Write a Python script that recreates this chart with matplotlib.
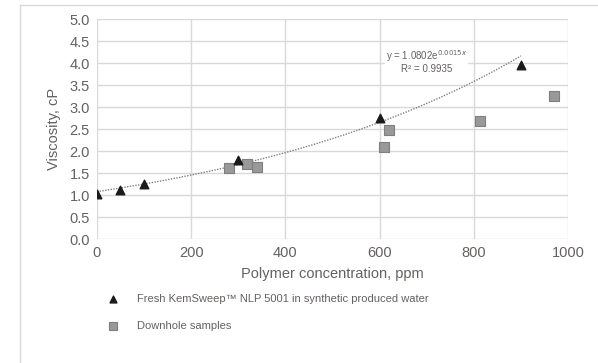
import numpy as np
import matplotlib
matplotlib.use('Agg')
import matplotlib.pyplot as plt
from matplotlib.lines import Line2D

plt.rcParams['font.family'] = ['Liberation Sans', 'DejaVu Sans']

# fresh polymer in synthetic produced water
fresh_ppm = [0, 50, 100, 300, 600, 900]
fresh_cp = [1.03, 1.13, 1.26, 1.79, 2.76, 3.96]

# downhole samples
down_ppm = [281, 319, 340, 610, 620, 812, 970]
down_cp = [1.63, 1.71, 1.65, 2.10, 2.48, 2.69, 3.26]

# exponential trendline, coefficients as printed on the chart
fit_a = 1.0802
fit_b = 0.0015

txt = '#666060'
grid = '#d9d9d9'

fig = plt.figure(figsize=(5.98, 3.63), dpi=100)
ax = fig.add_axes([0.162, 0.341, 0.788, 0.606])

xs = np.linspace(0, 900, 200)
ax.plot(xs, fit_a * np.exp(fit_b * xs), ls=(0, (1, 1)), color='#808080', lw=1.0, zorder=2)

ax.scatter(fresh_ppm, fresh_cp, marker='^', s=38, color='#1a1a1a', zorder=4,
           label='Fresh KemSweep™ NLP 5001 in synthetic produced water')
ax.scatter(down_ppm, down_cp, marker='s', s=42, facecolor='#999999', edgecolor='#7f7f7f',
           lw=0.8, zorder=3, label='Downhole samples')

ax.set_xlim(0, 1000)
ax.set_ylim(0, 5)
ax.set_xticks(range(0, 1001, 200))
ax.set_yticks(np.arange(0, 5.01, 0.5))
ax.set_yticklabels(['%.1f' % v for v in np.arange(0, 5.01, 0.5)])
ax.grid(True, color=grid, lw=1.0)
ax.set_axisbelow(True)
for s in ax.spines.values():
    s.set_visible(False)
ax.tick_params(length=0, labelsize=10.5, colors=txt, pad=5)

ax.set_xlabel('Polymer concentration, ppm', fontsize=10.5, color=txt, labelpad=5)
ax.set_ylabel('Viscosity, cP', fontsize=10.5, color=txt, labelpad=6)

ax.text(700, 4.05, 'y = 1.0802e$^{0.0015x}$\nR² = 0.9935', fontsize=7, color=txt,
        ha='center', va='center', linespacing=1.05,
        bbox=dict(facecolor='white', edgecolor='none', pad=0.5), zorder=5)

ax.legend(loc='upper left', bbox_to_anchor=(0.01, -0.25), markerscale=0.8,
          frameon=False, fontsize=8, labelcolor=txt, handletextpad=1.2,
          labelspacing=1.5, borderaxespad=0, borderpad=0)

# outer chart frame
fig.add_artist(Line2D([20/598, 20/598], [0, 1 - 5/363], color=grid, lw=1.0))
fig.add_artist(Line2D([20/598, 1], [1 - 5/363, 1 - 5/363], color=grid, lw=1.0))

fig.savefig('out.png', dpi=100, facecolor='white')
